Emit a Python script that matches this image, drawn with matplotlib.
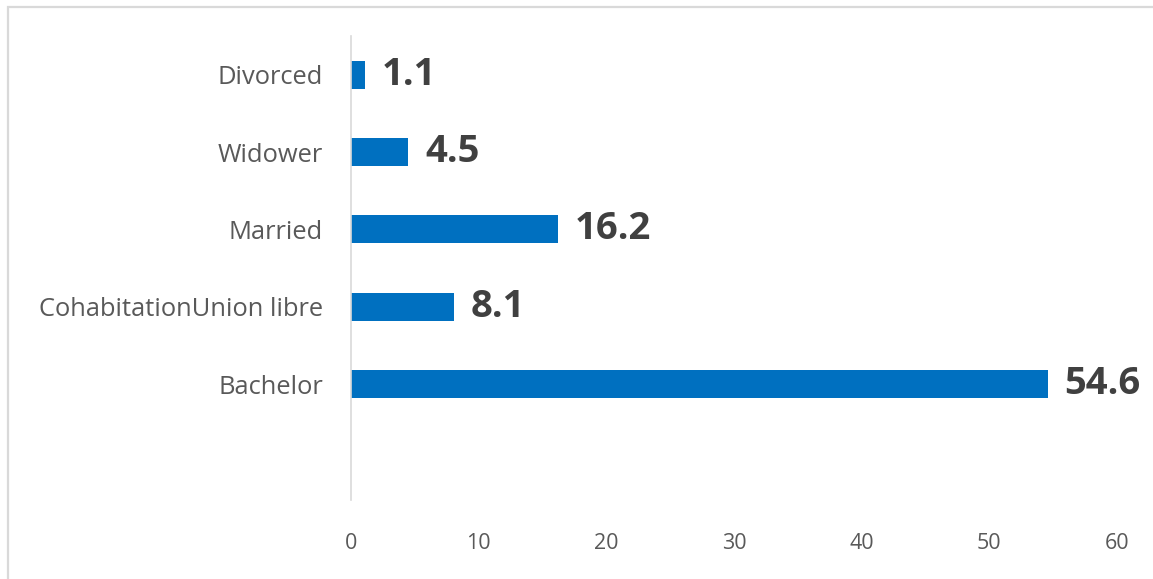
import matplotlib.pyplot as plt
from matplotlib.patches import Rectangle

plt.rcParams['font.family'] = ['Open Sans', 'DejaVu Sans']

# data
categories = ["Bachelor", "CohabitationUnion libre", "Married", "Widower", "Divorced"]
values = [54.6, 8.1, 16.2, 4.5, 1.1]
x_ticks = [0, 10, 20, 30, 40, 50, 60]

W, H = 1153, 579
fig = plt.figure(figsize=(W / 100, H / 100), dpi=100)

# light gray frame (right and bottom edges cut off in the original)
fig.patches.append(Rectangle((8 / W, -0.05), 1.2, 1 - 6.5 / H + 0.05,
                             transform=fig.transFigure, fill=False,
                             edgecolor='#D9D9D9', linewidth=1.6))

ax = fig.add_axes([351 / W, 1 - 500 / H, (1117 - 351) / W, (500 - 36) / H])

pos = list(range(len(categories)))
bars = ax.barh(pos, values, height=0.36, color='#0070C0')

for p, v in zip(pos, values):
    ax.text(v + 1.3, p, f"{v:.1f}", va='center', ha='left',
            fontsize=27.5, fontweight='bold', color='#404040')

ax.set_xlim(0, 60)
ax.set_ylim(-1.5, len(categories) - 0.5)
ax.set_xticks(x_ticks)
ax.set_yticks(pos)
ax.set_yticklabels(categories)

ax.tick_params(axis='y', length=0, pad=20, labelsize=18.4, labelcolor='#595959')
ax.tick_params(axis='x', length=0, pad=24, labelsize=15.5, labelcolor='#595959')

for s in ['top', 'right', 'bottom']:
    ax.spines[s].set_visible(False)
ax.spines['left'].set_color('#D9D9D9')
ax.spines['left'].set_linewidth(1.2)

fig.savefig('out.png', dpi=100)
